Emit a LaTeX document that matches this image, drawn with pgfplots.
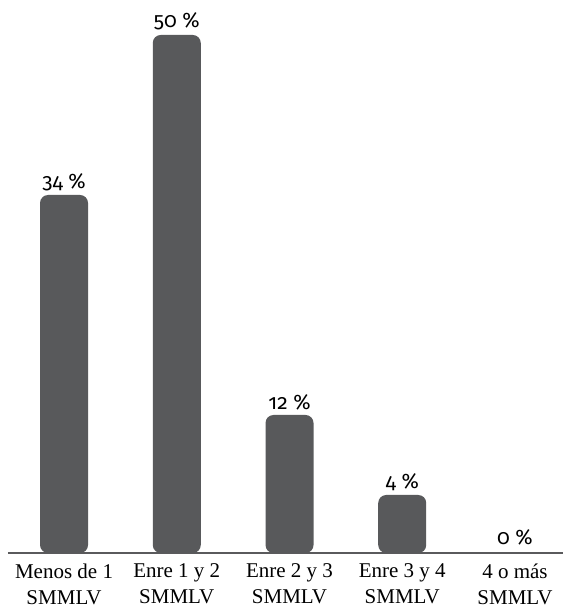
\documentclass[border=0pt]{standalone}
\usepackage{fontspec}
\usepackage{pgfplots}
\pgfplotsset{compat=1.18}
\setmainfont{Liberation Serif}
\newfontfamily\valfont[Numbers=OldStyle]{Fira Sans}
\definecolor{bargray}{HTML}{58595B}
\definecolor{lineGray}{HTML}{5A5A5C}

\begin{document}
\begin{tikzpicture}
\begin{axis}[
    scale only axis,
    width=555pt, height=518pt,
    xmin=-0.497, xmax=4.426,
    ymin=1.2, ymax=53,
    axis x line*=bottom,
    axis y line=none,
    x axis line style={draw=lineGray, line width=2.5pt, -},
    xtick={0,1,2,3,4},
    xtick style={draw=none},
    xticklabels={Menos de 1\\SMMLV, Enre 1 y 2\\SMMLV, Enre 2 y 3\\SMMLV, Enre 3 y 4\\SMMLV, 4 o más\\SMMLV},
    xticklabel style={align=center, font=\fontsize{21}{26}\selectfont, yshift=-7pt},
    ytick=\empty,
    clip mode=individual,
    % bars start 3 units below the visible zero so the lower corners are cut off
    y filter/.expression={y+3},
    point meta=explicit,
    /pgf/number format/assume math mode=true,
    nodes near coords={\pgfmathprintnumber{\pgfplotspointmeta}~\%},
    every node near coord/.append style={font=\valfont\fontsize{21}{24}\selectfont, text=black, anchor=south, yshift=1pt},
]
\addplot[ybar, bar width=48pt, fill=bargray, draw=none, rounded corners=8pt]
    coordinates {(0,34) [34] (1,50) [50] (2,12) [12] (3,4) [4]};
% the zero bar has no height, only its label
\addplot[ybar, bar width=48pt, fill=none, draw=none,
    every node near coord/.append style={yshift=-15pt}]
    coordinates {(4,0) [0]};
\end{axis}
\pgfresetboundingbox
\path[use as bounding box] (-8pt,-56pt) rectangle (555pt,553pt);
\end{tikzpicture}
\end{document}
